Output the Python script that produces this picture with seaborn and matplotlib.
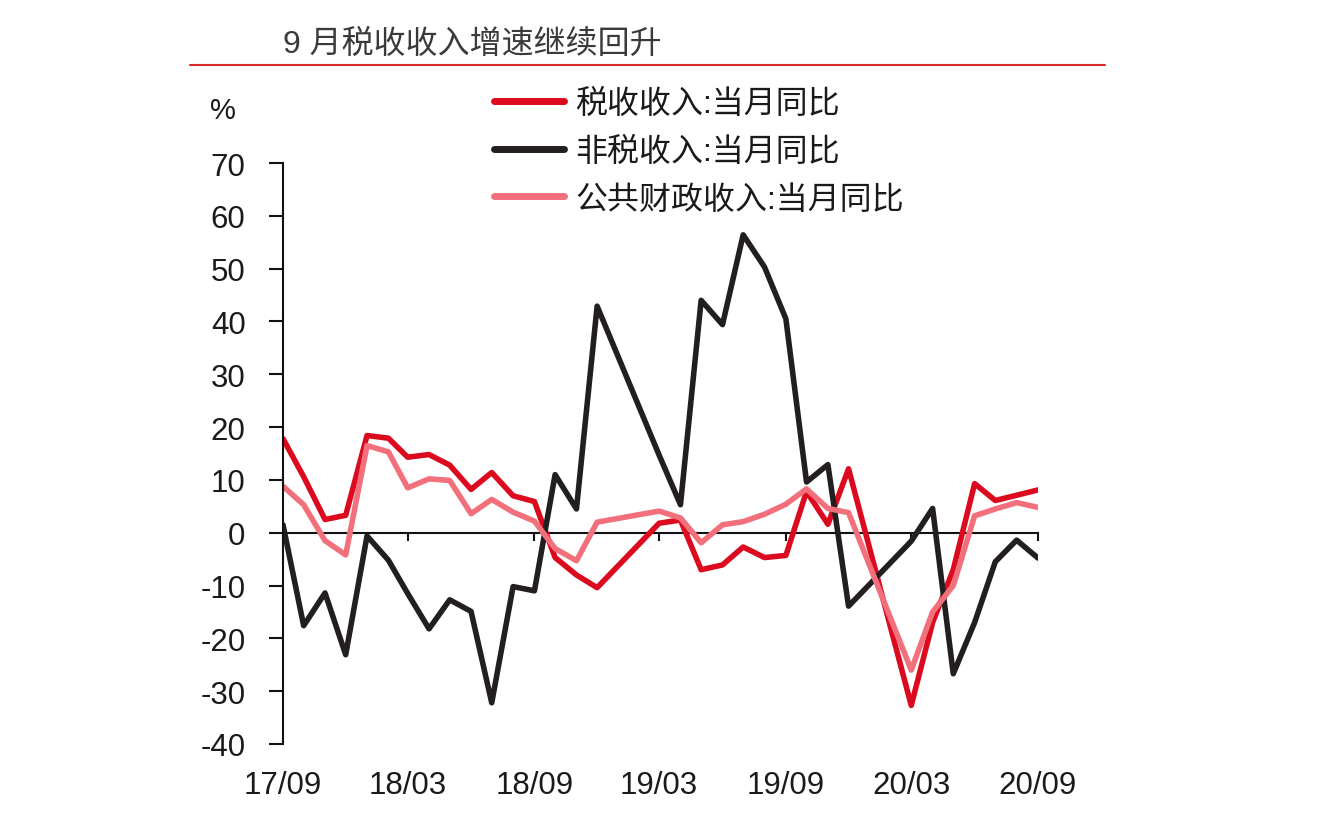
import matplotlib
matplotlib.use("Agg")
import matplotlib.pyplot as plt
import matplotlib.dates as mdates
from matplotlib.ticker import FixedLocator
from matplotlib.lines import Line2D
import seaborn as sns
import pandas as pd

# ---------------- data ----------------
months = ["17/09", "17/10", "17/11", "17/12", "18/01", "18/02", "18/03", "18/04",
          "18/05", "18/06", "18/07", "18/08", "18/09", "18/10", "18/11", "18/12",
          "19/03", "19/04", "19/05", "19/06", "19/07", "19/08", "19/09", "19/10",
          "19/11", "19/12", "20/03", "20/04", "20/05", "20/06", "20/07", "20/08",
          "20/09"]
tax = [17.8, 10.6, 2.5, 3.3, 18.4, 17.9, 14.3, 14.8,
       12.8, 8.2, 11.4, 7.0, 5.9, -4.7, -8.0, -10.4,
       1.8, 2.4, -7.0, -6.1, -2.7, -4.7, -4.3, 7.8,
       1.6, 12.1, -32.7, -17.0, -7.0, 9.3, 6.1, 7.1,
       8.1]
nontax = [1.5, -17.6, -11.4, -23.1, -0.6, -5.2, -11.5, -18.2,
          -12.7, -14.9, -32.2, -10.2, -11.0, 11.0, 4.5, 42.9,
          14.7, 5.3, 44.0, 39.4, 56.4, 50.3, 40.5, 9.6,
          12.9, -13.9, -1.6, 4.6, -26.7, -17.0, -5.5, -1.4,
          -4.8]
public = [8.8, 5.3, -1.5, -4.2, 16.5, 15.3, 8.5, 10.2,
          9.9, 3.6, 6.3, 3.9, 2.2, -3.0, -5.3, 2.0,
          4.1, 2.8, -1.9, 1.5, 2.1, 3.5, 5.4, 8.3,
          4.6, 3.8, -26.0, -15.0, -10.0, 3.2, 4.5, 5.7,
          4.8]
series_names = ["税收收入:当月同比", "非税收入:当月同比", "公共财政收入:当月同比"]
series_colors = ["#dc0a1e", "#231f20", "#f2707c"]
x_tick_labels = ["17/09", "18/03", "18/09", "19/03", "19/09", "20/03", "20/09"]
y_ticks = [-40, -30, -20, -10, 0, 10, 20, 30, 40, 50, 60, 70]
title = "9 月税收收入增速继续回升"
unit_label = "%"

# ---------------- style ----------------
sns.set_theme(style="white")
plt.rcParams["font.family"] = ["Liberation Sans", "Noto Sans CJK SC", "DejaVu Sans"]
plt.rcParams["axes.unicode_minus"] = False

def to_date(m):
    return pd.Timestamp("20" + m[:2] + "-" + m[3:] + "-01")

dates = [to_date(m) for m in months]
df = pd.DataFrame({"date": dates,
                   series_names[0]: tax,
                   series_names[1]: nontax,
                   series_names[2]: public})
long_df = df.melt(id_vars="date", var_name="series", value_name="value")

W, H = 1320, 820
fig = plt.figure(figsize=(W / 100, H / 100), dpi=100)
fig.patch.set_facecolor("white")
ax_left, ax_right, ax_top, ax_bottom = 283, 1038, 164, 745
ax = fig.add_axes([ax_left / W, 1 - ax_bottom / H,
                   (ax_right - ax_left) / W, (ax_bottom - ax_top) / H])
ax.set_facecolor("white")

sns.lineplot(data=long_df, x="date", y="value", hue="series",
             hue_order=series_names, palette=series_colors,
             linewidth=4.0, ax=ax, legend=True)

# axes limits and ticks
tick_dates = [to_date(m) for m in x_tick_labels]
ax.set_xlim(tick_dates[0], tick_dates[-1])
ax.set_ylim(y_ticks[0], y_ticks[-1])
ax.set_yticks(y_ticks)
ax.set_xlabel("")
ax.set_ylabel("")

for s in ["top", "right"]:
    ax.spines[s].set_visible(False)
ax.spines["left"].set_color("#111111")
ax.spines["left"].set_linewidth(1.5)
ax.spines["bottom"].set_position(("data", 0))
ax.spines["bottom"].set_color("#111111")
ax.spines["bottom"].set_linewidth(1.5)
ax.spines["bottom"].set_zorder(1)

ax.xaxis.set_major_locator(FixedLocator(mdates.date2num(tick_dates)))
ax.tick_params(axis="x", which="both", direction="out", length=6, width=1.5,
               color="#111111", labelbottom=False, bottom=True)
ax.tick_params(axis="y", direction="out", length=10, width=1.5,
               color="#111111", labelsize=22.5, labelcolor="#1a1a1a", pad=17, left=True)

sec = ax.secondary_xaxis("bottom")
sec.xaxis.set_major_locator(FixedLocator(mdates.date2num(tick_dates)))
sec.xaxis.set_major_formatter(mdates.DateFormatter("%y/%m"))
sec.spines["bottom"].set_visible(False)
sec.tick_params(axis="x", length=0, pad=19, labelsize=22.5, labelcolor="#1a1a1a")

# legend
handles, labels = ax.get_legend_handles_labels()
leg = ax.legend(handles, labels, loc="upper left",
                bbox_to_anchor=(494 / W, 1 - 90 / H), bbox_transform=fig.transFigure,
                frameon=False, fontsize=23, handlelength=2.2, handletextpad=0.35,
                labelspacing=0.55, borderpad=0, borderaxespad=0)
for line in leg.get_lines():
    line.set_linewidth(5)
for t in leg.get_texts():
    t.set_color("#1a1a1a")

# unit and title
fig.text(223 / W, 1 - 111 / H, unit_label, ha="center", va="center",
         fontsize=21, color="#1a1a1a")
fig.text(283 / W, 1 - 45 / H, title, ha="left", va="center",
         fontsize=23, color="#3a3a3a")
fig.add_artist(Line2D([190 / W, 1105 / W], [1 - 66 / H, 1 - 66 / H],
                      color="#d42a2a", linewidth=1.5))

fig.savefig("out.png", dpi=100, facecolor="white")
